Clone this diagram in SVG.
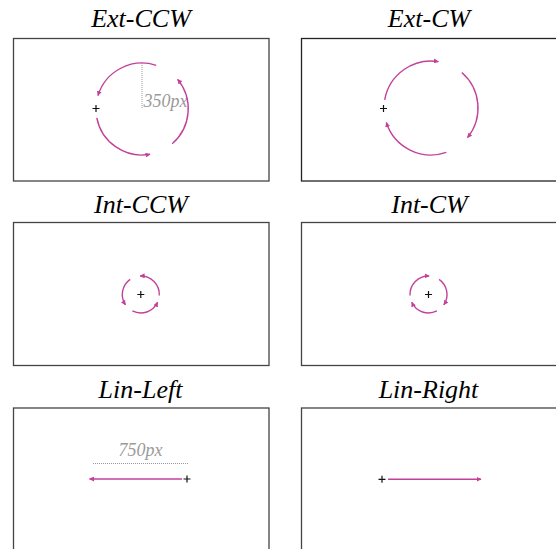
<svg xmlns="http://www.w3.org/2000/svg" width="556" height="549" viewBox="0 0 556 549">
<defs>
<marker id="ah" viewBox="0 0 10 10" refX="9" refY="5" markerWidth="5" markerHeight="5" markerUnits="userSpaceOnUse" orient="auto">
<path d="M0,0 L10,5 L0,10 z" fill="#c2419b"/>
</marker>
</defs>
<style>
.title{font-family:"Liberation Serif","Times New Roman",serif;font-style:italic;font-size:26px;fill:#000;text-anchor:middle}
.dim{font-family:"Liberation Serif","Times New Roman",serif;font-style:italic;font-size:18px;fill:#9a9a9a}
.frame{fill:#fff;stroke:#444;stroke-width:1.3}
.arc{fill:none;stroke:#c2419b;stroke-width:1.4;marker-end:url(#ah)}
.plus{fill:none;stroke:#111;stroke-width:1.2}
.dot{fill:none;stroke:#999;stroke-width:1;stroke-dasharray:1 1}
</style>
<rect width="556" height="549" fill="#fff"/>

<g id="ext-ccw">
<text class="title" x="141" y="27">Ext-CCW</text>
<rect class="frame" x="13.5" y="38.5" width="255.5" height="142.5"/>
<path class="dot" d="M142,63 V109"/>
<text class="dim" x="143.5" y="106.5">350px</text>
<path class="plus" d="M92.5,108.5 H99.5 M96,105 V112"/>
</g>

<g id="ext-cw">
<text class="title" x="429" y="27">Ext-CW</text>
<rect class="frame" x="301.5" y="38.5" width="256" height="142.5" style="stroke:#222"/>
<path class="plus" d="M380,108.5 H387 M383.5,105 V112"/>
</g>

<g id="int-ccw">
<text class="title" x="141" y="212.5">Int-CCW</text>
<rect class="frame" x="13.5" y="222.5" width="255.5" height="143"/>
<path class="plus" d="M137.3,294.5 H144.3 M140.8,291 V298"/>
</g>

<g id="int-cw">
<text class="title" x="429.5" y="212.5">Int-CW</text>
<rect class="frame" x="301.5" y="222.5" width="256" height="143"/>
<path class="plus" d="M425,294.5 H432 M428.5,291 V298"/>
</g>

<g id="lin-left">
<text class="title" x="140.5" y="398">Lin-Left</text>
<rect class="frame" x="13.5" y="408" width="255.5" height="150"/>
<text class="dim" x="140.5" y="456" text-anchor="middle">750px</text>
<path class="dot" d="M93,463.5 H188"/>
<path class="plus" d="M183.5,479 H190.5 M187,475.5 V482.5"/>
</g>

<g id="lin-right">
<text class="title" x="428.5" y="398">Lin-Right</text>
<rect class="frame" x="301.5" y="408" width="256" height="150"/>
<path class="plus" d="M378.5,479.3 H385.5 M382,475.8 V482.8"/>
</g>

<g id="connectors">
<path class="arc" d="M156.2,65.3 A46,46 0 0 0 98.0,95.6"/>
<path class="arc" d="M96.8,117.8 A46,46 0 0 0 150.0,154.3"/>
<path class="arc" d="M172.2,143.7 A46,46 0 0 0 177.6,79.4"/>

<path class="arc" d="M384.7,99.8 A47,47 0 0 1 438.4,61.6"/>
<path class="arc" d="M461.8,72.5 A47,47 0 0 1 467.5,137.6"/>
<path class="arc" d="M446.3,152.4 A47,47 0 0 1 386.3,122.5"/>

<path class="arc" d="M159.27,295.47 A18.5,18.5 0 0 0 140.15,276.01"/>
<path class="arc" d="M130.19,279.34 A18.5,18.5 0 0 0 125.46,304.85"/>
<path class="arc" d="M132.4,310.98 A18.5,18.5 0 0 0 157.57,302.32"/>

<path class="arc" d="M410.03,295.47 A18.5,18.5 0 0 1 429.15,276.01"/>
<path class="arc" d="M439.11,279.34 A18.5,18.5 0 0 1 443.84,304.85"/>
<path class="arc" d="M436.9,310.98 A18.5,18.5 0 0 1 411.73,302.32"/>

<path class="arc" d="M182,479 H89.5"/>
<path class="arc" d="M388,479.3 H481"/>
</g>
</svg>
